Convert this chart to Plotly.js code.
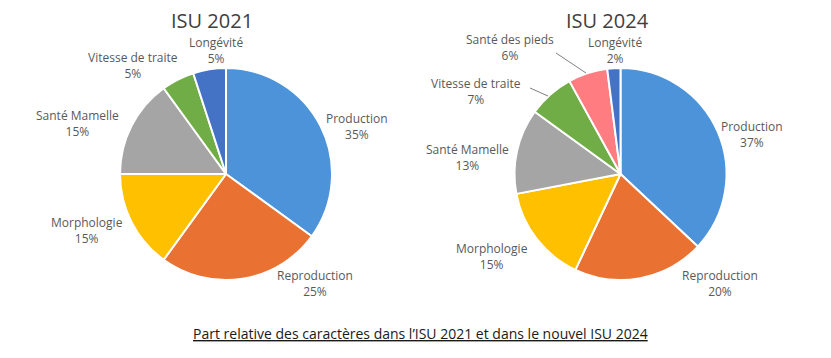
<!DOCTYPE html>
<html><head><meta charset="utf-8">
<script src="https://cdn.plot.ly/plotly-3.0.1.min.js"></script>
<style>html,body{margin:0;padding:0;background:#fff}#c{width:831px;height:358px}</style>
</head><body><div id="c"></div>
<script>
const labels2021 = ["Production","Reproduction","Morphologie","Santé Mamelle","Vitesse de traite","Longévité"];
const values2021 = [35,25,15,15,5,5];
const colors2021 = ["#4D93D9","#E97132","#FFC000","#A5A5A5","#70AD47","#4472C4"];
const labels2024 = ["Production","Reproduction","Morphologie","Santé Mamelle","Vitesse de traite","Santé des pieds","Longévité"];
const values2024 = [37,20,15,13,7,6,2];
const colors2024 = ["#4D93D9","#E97132","#FFC000","#A5A5A5","#70AD47","#FF7C80","#4472C4"];
const titles = ["ISU 2021","ISU 2024"];
const caption = "Part relative des caractères dans l’ISU 2021 et dans le nouvel ISU 2024";

const W = 831, H = 358;
const px = x => x / W, py = y => 1 - y / H;
const FONT = "Open Sans, sans-serif";

// label placement (pixel centres) — layout only
const pos2021 = [[357,126],[315,283],[87,231],[77,124],[133,66],[216,50]];
const pos2024 = [[752,134],[720,283],[492,256],[467,158],[476,91],[510,48],[615,51]];

function pie(labels, values, colors, x0, x1) {
  return {
    type: "pie", labels: labels, values: values, sort: false,
    direction: "clockwise", rotation: 0,
    marker: {colors: colors, line: {color: "#ffffff", width: 2}},
    textinfo: "none", hoverinfo: "label+percent", showlegend: false,
    domain: {x: [px(x0), px(x1)], y: [py(280), py(68)]}
  };
}

const data = [
  pie(labels2021, values2021, colors2021, 120, 332),
  pie(labels2024, values2024, colors2024, 514, 727)
];

const annotations = [];
function addLabels(labels, values, pos) {
  labels.forEach((l, i) => {
    annotations.push({
      xref: "paper", yref: "paper", x: px(pos[i][0]), y: py(pos[i][1]),
      xanchor: "center", yanchor: "middle", showarrow: false,
      text: l + "<br>" + values[i] + "%",
      font: {family: FONT, size: 12, color: "#595959"}
    });
  });
}
addLabels(labels2021, values2021, pos2021);
addLabels(labels2024, values2024, pos2024);
[[212, titles[0]], [607, titles[1]]].forEach(t => annotations.push({
  xref: "paper", yref: "paper", x: px(t[0]), y: py(20.5),
  xanchor: "center", yanchor: "middle", showarrow: false, text: t[1],
  font: {family: FONT, size: 20, color: "#404040"}
}));
annotations.push({
  xref: "paper", yref: "paper", x: px(420), y: py(333),
  xanchor: "center", yanchor: "middle", showarrow: false,
  text: caption,
  font: {family: FONT, size: 14, color: "#1a1a1a", lineposition: "under"}
});

const shapes = [
  {type: "line", xref: "paper", yref: "paper", x0: px(556), y0: py(53), x1: px(586), y1: py(73), line: {color: "#7f7f7f", width: 1}},
  {type: "line", xref: "paper", yref: "paper", x0: px(530), y0: py(88), x1: px(548), y1: py(96), line: {color: "#7f7f7f", width: 1}}
];

Plotly.newPlot("c", data, {
  width: W, height: H, margin: {l: 0, r: 0, t: 0, b: 0},
  paper_bgcolor: "#ffffff", plot_bgcolor: "#ffffff",
  annotations: annotations, shapes: shapes
}, {displayModeBar: false, staticPlot: true});
</script></body></html>
